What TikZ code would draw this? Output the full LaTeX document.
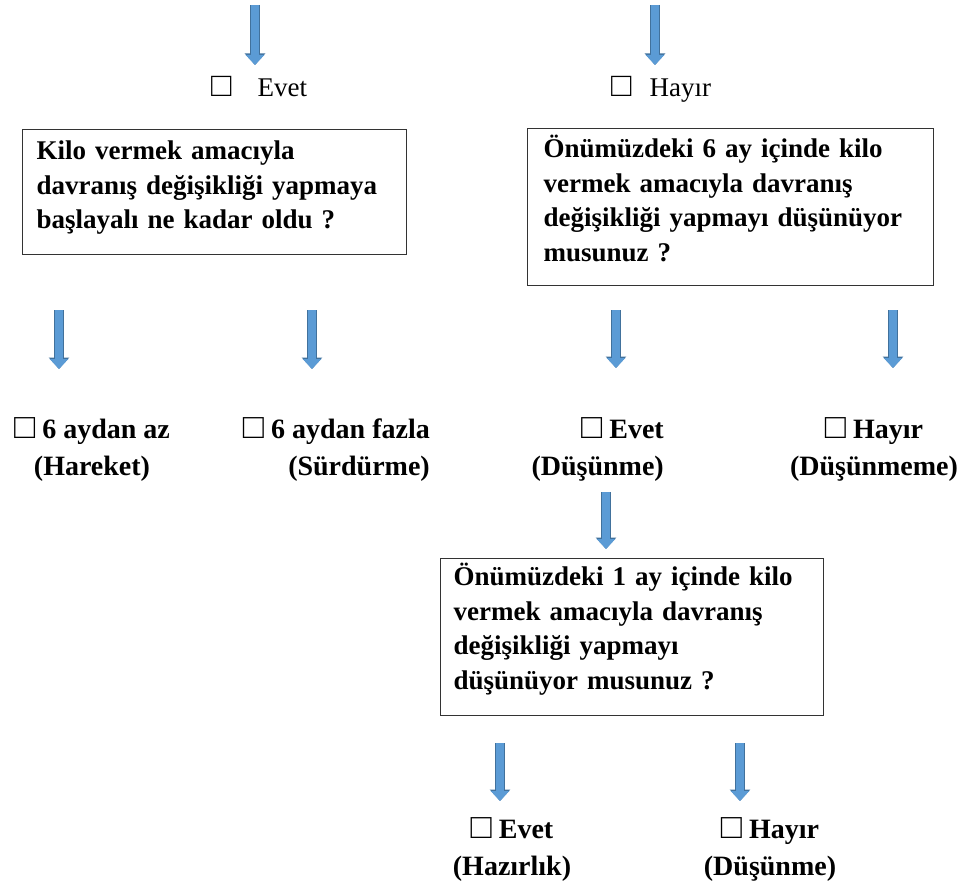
\documentclass[tikz,border=0pt]{standalone}
\usepackage{fontspec}
\setmainfont{Liberation Serif}
\newfontfamily\boxfont{Liberation Serif}[Scale=1.25]
\newcommand\optbox{{\boxfont □}}
\usepackage{tikz}
\usetikzlibrary{arrows.meta,positioning}
\definecolor{arrowblue}{HTML}{5B9BD5}
\definecolor{arrowedge}{HTML}{41719C}
\definecolor{boxline}{HTML}{333333}

\begin{document}
\begin{tikzpicture}[x=1pt,y=-1pt,
  question/.style={draw=boxline,line width=1.2pt,anchor=north west,align=left,inner ysep=6pt,font=\fontsize{27}{34.5}\selectfont\bfseries},
  answer/.style={inner sep=0pt,font=\fontsize{28}{37}\selectfont\bfseries},
  choice/.style={inner sep=0pt,anchor=base west,font=\fontsize{27}{34}\selectfont},
  flow/.style={line width=8pt,draw=arrowblue,-{Triangle[width=18pt,length=10pt]},
    preaction={draw=arrowedge,line width=9.6pt,-{Triangle[width=20pt,length=11.5pt]}}}]
\useasboundingbox (0,0) rectangle (963,896);
% first answer
\node[choice] (evet) at (211,97) {\optbox\hspace{26pt}Evet};
\node[choice] (hayir) at (611,97) {\optbox\hspace{18pt}Hayır};
% questions
\node[question,inner xsep=14pt,text width=356pt,text height=24pt,text depth=89pt] (q1) at (22,129) {Kilo vermek amacıyla\\ davranış değişikliği yapmaya\\ başlayalı ne kadar oldu ?};
\node[question,inner xsep=16pt,text width=374pt,text height=23pt,text depth=122pt] (q2) at (527,128) {Önümüzdeki 6 ay içinde kilo\\ vermek amacıyla davranış\\ değişikliği yapmayı düşünüyor\\ musunuz ?};
% stages
\node[answer,align=center,anchor=base] (hareket) at (92,475) {\optbox\ 6 aydan az\\ (Hareket)};
\node[answer,align=right,anchor=base east] (surdurme) at (430,475) {\optbox\ 6 aydan fazla\\ (Sürdürme)};
\node[answer,align=right,anchor=base east] (dusunme) at (664,475) {\optbox\ Evet\\ (Düşünme)};
\node[answer,align=center,anchor=base] (dusunmeme) at (874,475) {\optbox\ Hayır\\ (Düşünmeme)};
\node[question,inner xsep=13pt,text width=357pt,text height=21pt,text depth=124pt] (q3) at (440,558) {Önümüzdeki 1 ay içinde kilo\\ vermek amacıyla davranış\\ değişikliği yapmayı\\ düşünüyor musunuz ?};
\node[answer,align=center,anchor=base] (hazirlik) at (512,875) {\optbox\ Evet\\ (Hazırlık)};
\node[answer,align=center,anchor=base] (dusunme2) at (770,875) {\optbox\ Hayır\\ (Düşünme)};
% arrow ends
\coordinate (in1) at (255,5);   \coordinate (to1) at (255,65);
\coordinate (in2) at (655,5);   \coordinate (to2) at (655,65);
\coordinate (in3) at (59,310);  \coordinate (to3) at (59,369);
\coordinate (in4) at (312,310); \coordinate (to4) at (312,369);
\coordinate (in5) at (616,310); \coordinate (to5) at (616,368);
\coordinate (in6) at (893,310); \coordinate (to6) at (893,368);
\coordinate (in7) at (606,492); \coordinate (to7) at (606,549);
\coordinate (in8) at (500,743); \coordinate (to8) at (500,801);
\coordinate (in9) at (740,743); \coordinate (to9) at (740,801);
\draw[flow] (in1)--(to1);
\draw[flow] (in2)--(to2);
\draw[flow] (in3)--(to3);
\draw[flow] (in4)--(to4);
\draw[flow] (in5)--(to5);
\draw[flow] (in6)--(to6);
\draw[flow] (in7)--(to7);
\draw[flow] (in8)--(to8);
\draw[flow] (in9)--(to9);
\end{tikzpicture}
\end{document}
